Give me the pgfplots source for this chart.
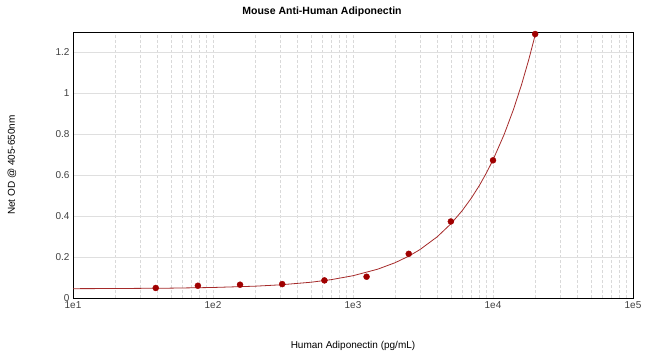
\documentclass[border=0pt]{standalone}
\usepackage{pgfplots}
\pgfplotsset{compat=1.18}
\usepackage{fontspec}
\setmainfont{Liberation Sans}
\definecolor{curvered}{HTML}{A52A2A}
\definecolor{dotred}{HTML}{A00000}
\begin{document}
\begin{tikzpicture}
\useasboundingbox (0,0) rectangle (650pt,360pt);
\node[anchor=center, font=\fontsize{10.5}{12}\selectfont\bfseries] at (322pt,348pt) {Mouse Anti-Human Adiponectin};
\begin{axis}[
  at={(73pt,62pt)}, anchor=south west,
  scale only axis, width=560pt, height=266pt,
  xmode=log, xmin=10, xmax=100000,
  ymin=0, ymax=1.3,
  xtick={10,100,1000,10000,100000},
  xticklabels={1e1,1e2,1e3,1e4,1e5},
  ytick={0,0.2,0.4,0.6,0.8,1,1.2},
  yticklabels={0,0.2,0.4,0.6,0.8,1,1.2},
  major tick length=0pt, minor tick length=0pt,
  grid=both,
  major grid style={gray!30, dash pattern=on 3pt off 2pt},
  minor grid style={gray!30, dash pattern=on 3pt off 2pt},
  y grid style={gray!25, solid},
  minor y tick num=0,
  axis line style={black, line width=0.8pt},
  tick label style={font=\fontsize{10}{11}\selectfont, text=black!75},
  xlabel={Human Adiponectin (pg/mL)},
  xlabel style={at={(0.5,-0.18)}, anchor=center, font=\fontsize{10}{11}\selectfont},
  ylabel={Net OD @ 405-650nm},
  ylabel style={at={(-0.109,0.5)}, anchor=center, font=\fontsize{10}{11}\selectfont},
  clip=false,
]
\addplot[curvered, line width=0.8pt, mark=none] coordinates {
(10,0.0456) (20,0.0463) (50,0.0482) (100,0.0514) (200,0.0578) (300,0.0642)
(500,0.0770) (700,0.0898) (1000,0.1089) (1500,0.1408) (2000,0.1726)
(2500,0.2044) (3000,0.2361) (4000,0.2994) (5000,0.3625) (6000,0.4254)
(7000,0.4881) (8000,0.5506) (9000,0.6129) (10000,0.675) (12000,0.7986)
(14000,0.9214) (16000,1.0434) (18000,1.1646) (20000,1.2850)
};
\addplot[only marks, mark=*, mark size=3pt, mark options={fill=dotred, draw=dotred}] coordinates {
(39,0.049) (78,0.060) (156,0.065) (312,0.068) (625,0.086) (1250,0.104)
(2500,0.216) (5000,0.374) (10000,0.673) (20000,1.29)
};
\end{axis}
\end{tikzpicture}
\end{document}
